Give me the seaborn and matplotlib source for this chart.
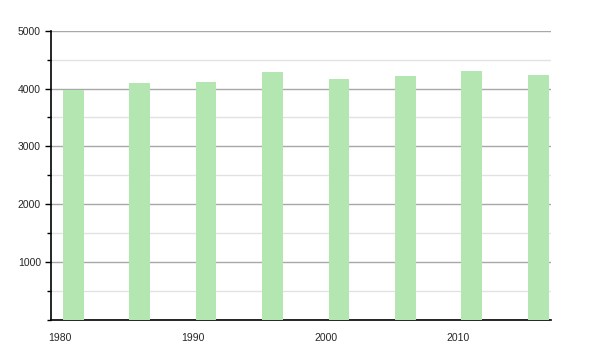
import matplotlib
matplotlib.use("Agg")
import matplotlib.pyplot as plt
import seaborn as sns
import pandas as pd
from matplotlib.ticker import MultipleLocator

years = [1981, 1986, 1991, 1996, 2001, 2006, 2011, 2016]
population = [3970, 4100, 4120, 4280, 4170, 4225, 4310, 4240]
x_ticks = [1980, 1990, 2000, 2010]
y_ticks = [1000, 2000, 3000, 4000, 5000]

sns.set_theme(style="white")
plt.rcParams['font.family'] = ['Liberation Sans', 'DejaVu Sans']

df = pd.DataFrame({"year": years, "pop": population})

fig = plt.figure(figsize=(6, 3.5), dpi=100)
ax = fig.add_axes([0.0845, 0.0857, 0.8335, 0.8266])

sns.barplot(data=df, x="year", y="pop", native_scale=True, width=0.312,
            color="#b3e6b1", saturation=1, linewidth=0, edgecolor="none",
            ax=ax, zorder=3)

ax.set_xlim(1979.31, 2016.95)
ax.set_ylim(0, 5000)
ax.set_xticks(x_ticks)
ax.set_xticklabels([str(t) for t in x_ticks])
ax.set_yticks(y_ticks)
ax.set_yticklabels([str(t) for t in y_ticks])
ax.yaxis.set_minor_locator(MultipleLocator(500))

ax.grid(True, which="major", axis="y", color="#a8a8a8", linewidth=1.0, zorder=1)
ax.grid(True, which="minor", axis="y", color="#e2e2e2", linewidth=1.0, zorder=1)
ax.set_axisbelow(True)

for s in ["top", "right"]:
    ax.spines[s].set_visible(False)
for s in ["left", "bottom"]:
    ax.spines[s].set_color("black")
    ax.spines[s].set_linewidth(1.2)

ax.tick_params(axis="y", which="major", left=True, length=4, width=1, color="black",
               labelsize=7.5, pad=3)
ax.tick_params(axis="y", which="minor", left=True, length=3, width=1, color="black")
ax.tick_params(axis="x", which="both", bottom=False, labelsize=7.5, pad=3)
ax.set_xlabel("")
ax.set_ylabel("")

fig.savefig("out.png", dpi=100, facecolor="white")
